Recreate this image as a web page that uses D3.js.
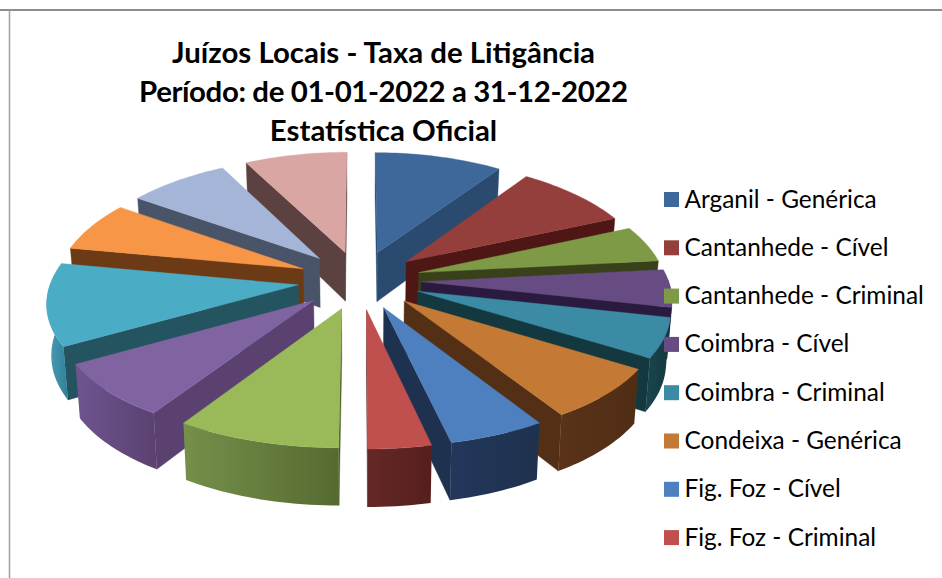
<!DOCTYPE html>
<html><head><meta charset="utf-8">
<script src="https://cdn.jsdelivr.net/npm/d3@7/dist/d3.min.js"></script>
<style>html,body{margin:0;padding:0;background:#fff}svg{display:block}text{font-family:Lato,"Noto Sans",sans-serif;fill:#000}</style>
</head><body><svg id="c" width="942" height="578"></svg>
<script>
const titleLines = ["Juízos Locais - Taxa de Litigância","Período: de 01-01-2022 a 31-12-2022","Estatística Oficial"];
const legendLabels = ["Arganil - Genérica","Cantanhede - Cível","Cantanhede - Criminal","Coimbra - Cível","Coimbra - Criminal","Condeixa - Genérica","Fig. Foz - Cível","Fig. Foz - Criminal"];
const sliceValues = [9.6,8.8,4.9,5.1,5.4,7.2,5.4,3.5,9.1,7.6,11.2,6.7,7.6,7.7];
const topColors  = ["#3e6899","#953f3d","#7f9a47","#674b83","#3b8ba4","#c47a35","#4e7fbe","#bf504e","#9aba59","#8064a2","#4bacc6","#f79646","#a5b5d7","#d9a6a4"];
const wallColors = ["#2a4a70","#4e1715","#38411a","#2a1a3f","#14383f","#532f16","#1e324f","#5f2524","#4d5f28","#5a4170","#23545f","#6c3b16","#4a5469","#5b4240"];
const rimLeft    = ["#2a4a70","#4e1715","#38411a","#2a1a3f","#1a4650","#5a3318","#22375a","#652826","#75904a","#6f5490","#4c9fba","#6c3b16","#4a5469","#5b4240"];
const rimRight   = ["#2a4a70","#4e1715","#38411a","#2a1a3f","#14383f","#4f2d15","#1e324f","#551f1e","#566a30","#5a4170","#2f8097","#6c3b16","#4a5469","#5b4240"];

const svg = d3.select("#c");
const defs = svg.append("defs");
const cx = 359.5, cy = 280, rx = 247, ry = 116.8, perspX = 0.13, perspY = 0.11, depth = 50, explode = 0.25, taper = 0.015;
const sx = d3.scaleLinear().domain([0,1]).range([cx,cx+rx]);
const sy = d3.scaleLinear().domain([0,1]).range([cy,cy+ry]);
function project(u,v,h){const w=1-perspY*v;return [sx(u/(1-perspX*v)*(1-taper*h)),sy(v/w)+h*depth/w];}
const pie = d3.pie().sort(null).value(d=>d);
const line = d3.line();

const slices = pie(sliceValues).map((p,i)=>{
  const mid=(p.startAngle+p.endAngle)/2;
  const ox=explode*Math.sin(mid), oy=-explode*Math.cos(mid);
  const P=(a,r,h)=>project(ox+r*Math.sin(a),oy-r*Math.cos(a),h);
  const n=Math.max(8,Math.ceil((p.endAngle-p.startAngle)*40));
  const angles=d3.range(n+1).map(k=>p.startAngle+(p.endAngle-p.startAngle)*k/n);
  return {i,p,mid,P,angles,sortKey:oy};
}).sort((a,b)=>a.sortKey-b.sortKey);

// frame
svg.append("path").attr("d","M0,10H942").attr("stroke","#8c8c8c").attr("stroke-width",2);
svg.append("path").attr("d","M9.5,10V578").attr("stroke","#a0a0a0").attr("stroke-width",1.5);

const g = svg.append("g");
slices.forEach(s=>{
  const {i,p,P,angles}=s, sg=g.append("g");
  const apexT=P(0,0,0), apexB=P(0,0,1);
  // radial walls, only the faces turned towards the viewer
  [[p.startAngle,1],[p.endAngle,-1]].forEach(([a,sign])=>{
    const q=[apexT,P(a,1,0),P(a,1,1),apexB];
    if(sign*d3.polygonArea(q)>0) sg.append("path").attr("d",line(q)+"Z").attr("fill",wallColors[i]).attr("stroke",wallColors[i]).attr("stroke-width",.4);
  });
  // outer wall, only segments that face the viewer
  const vis=angles.filter(a=>Math.cos(a)<0.03);
  if(vis.length>1){
    const t=vis.map(a=>P(a,1,0)), b=vis.map(a=>P(a,1,1)).reverse(), poly=t.concat(b);
    const xs=poly.map(d=>d[0]);
    const gid="rim"+i;
    const gr=defs.append("linearGradient").attr("id",gid).attr("gradientUnits","userSpaceOnUse")
      .attr("x1",d3.min(xs)).attr("x2",d3.max(xs)).attr("y1",0).attr("y2",0);
    gr.append("stop").attr("offset",0).attr("stop-color",rimLeft[i]);
    gr.append("stop").attr("offset",1).attr("stop-color",rimRight[i]);
    sg.append("path").attr("d",line(poly)+"Z").attr("fill",`url(#${gid})`);
  }
  // top face
  const top=[apexT].concat(angles.map(a=>P(a,1,0)));
  sg.append("path").attr("d",line(top)+"Z").attr("fill",topColors[i]).attr("stroke",topColors[i]).attr("stroke-width",.4);
});

// title
const titleY=d3.scaleLinear().domain([0,1]).range([63,102]);
svg.append("g").selectAll("text").data(titleLines).join("text")
  .attr("x",383.5).attr("y",(d,i)=>titleY(i)).attr("text-anchor","middle")
  .attr("font-size",29.4).attr("font-weight",700).text(d=>d)
  .each(function(d,i){ if(i===1) d3.select(this).attr("textLength",489).attr("lengthAdjust","spacing"); });

// legend
const legY=d3.scaleLinear().domain([0,1]).range([199.5,247.8]);
const lg=svg.append("g").selectAll("g").data(legendLabels).join("g")
  .attr("transform",(d,i)=>`translate(664,${legY(i)})`);
lg.append("rect").attr("x",0).attr("y",-7.5).attr("width",15).attr("height",15).attr("fill",(d,i)=>topColors[i]);
lg.append("text").attr("x",20.5).attr("y",8).attr("font-size",24.4).text(d=>d);
</script></body></html>
